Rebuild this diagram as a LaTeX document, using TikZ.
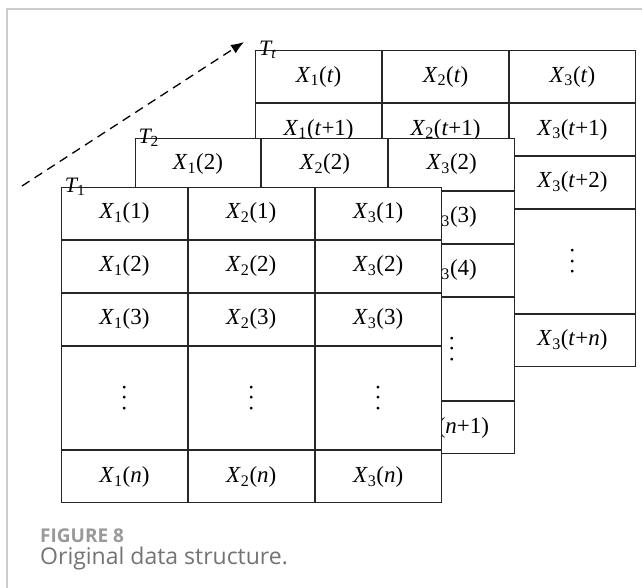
\documentclass[tikz,border=0pt]{standalone}
\usepackage{fontspec}
\setmainfont{Liberation Serif}
\newfontfamily\capfont{Open Sans}
\usetikzlibrary{arrows.meta, matrix}

\newcommand{\xv}[2]{\textit{X}\textsubscript{#1}(#2)}
\newcommand{\tv}{\textit{t}}
\newcommand{\nv}{\textit{n}}
\newcommand{\vd}{\rotatebox[origin=c]{90}{.\hspace{4.5pt}.\hspace{4.5pt}.}}

\begin{document}
\begin{tikzpicture}[
  x=1pt, y=-1pt,
  >=Latex,
  cell/.style={
    draw=black!85, fill=white, line width=1pt, inner sep=0pt, outer sep=0pt,
    minimum width=125.9pt, minimum height=51.9pt, anchor=center,
    font=\fontsize{23}{27}\selectfont
  },
  slab/.style={
    matrix of nodes, nodes in empty cells, anchor=north west,
    inner sep=0pt, column sep=0pt, row sep=0pt, nodes={cell},
    row 4/.style={nodes={minimum height=103.8pt}}
  },
  tag/.style={anchor=west, inner sep=0pt, font=\fontsize{22}{26}\selectfont\itshape},
  trend/.style={-{Latex[length=13pt,width=10pt]}, dash pattern=on 9pt off 6pt, line width=1.3pt},
  pageline/.style={draw=gray!40, line width=1.6pt},
  figno/.style={anchor=base west, inner sep=0pt, text=gray!80,
    font=\capfont\bfseries\fontsize{19}{22}\selectfont},
  caption/.style={anchor=base west, inner sep=0pt, text=gray!90!black,
    font=\capfont\fontsize{23}{26}\selectfont}
]
  \useasboundingbox (0,0) rectangle (642,588);
  \draw[pageline] (642,9) -- (7,9) -- (7,588);

  % time direction
  \coordinate (from) at (22,186);
  \coordinate (to) at (244,42);
  \draw[trend] (from) -- (to);

  % back to front: T_t, T_2, T_1
  \matrix[slab] (Tt) at (255,50) {
    \xv{1}{\tv} & \xv{2}{\tv} & \xv{3}{\tv} \\
    \xv{1}{\tv+1} & \xv{2}{\tv+1} & \xv{3}{\tv+1} \\
     & & \xv{3}{\tv+2} \\
     & & \vd \\
     & & \xv{3}{\tv+\nv} \\
  };
  \node[tag] (Ttlab) at ([xshift=4pt]Tt.north west) {T\textsubscript{\textit{t}}};

  \matrix[slab] (T2) at (134.3,137.7) {
    \xv{1}{2} & \xv{2}{2} & \xv{3}{2} \\
     & & \xv{3}{3} \\
     & & \xv{3}{4} \\
     & & \vd \\
     & & \xv{3}{\nv+1} \\
  };
  \node[tag] (T2lab) at ([xshift=4pt]T2.north west) {T\textsubscript{\textup{2}}};

  \matrix[slab] (T1) at (60.7,186.7) {
    \xv{1}{1} & \xv{2}{1} & \xv{3}{1} \\
    \xv{1}{2} & \xv{2}{2} & \xv{3}{2} \\
    \xv{1}{3} & \xv{2}{3} & \xv{3}{3} \\
    \vd & \vd & \vd \\
    \xv{1}{\nv} & \xv{2}{\nv} & \xv{3}{\nv} \\
  };
  \node[tag] (T1lab) at ([xshift=4pt]T1.north west) {T\textsubscript{\textup{1}}};

  \node[figno] (fig) at (40,542) {FIGURE 8};
  \node[caption] (cap) at (40,564) {Original data structure.};
\end{tikzpicture}
\end{document}
